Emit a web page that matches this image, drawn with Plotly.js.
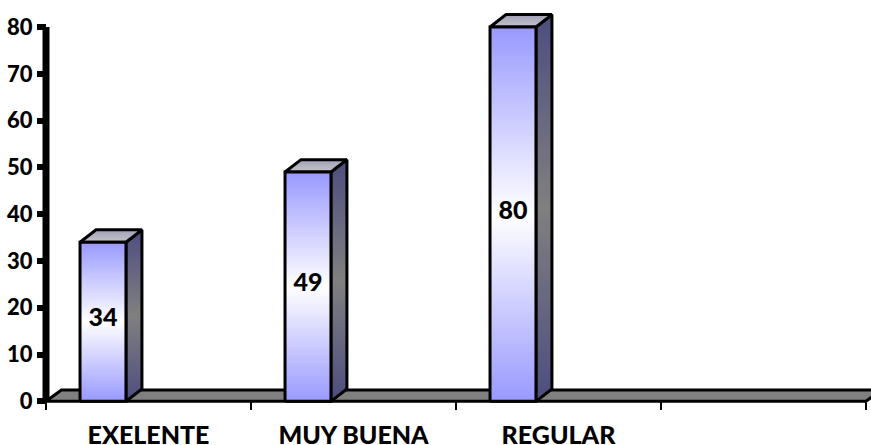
<!DOCTYPE html>
<html><head><meta charset="utf-8">
<script src="https://cdn.plot.ly/plotly-3.0.1.min.js"></script>
<style>html,body{margin:0;padding:0;background:#fff;overflow:hidden}</style>
</head><body><div id="chart" style="width:871px;height:445px"></div>
<script>
const categories = ["EXELENTE", "MUY BUENA", "REGULAR"];
const values = [34, 49, 80];
const slotTicks = [0, 1, 2, 3, 4];
const yTicks = [0, 10, 20, 30, 40, 50, 60, 70, 80];

const barOffset = 0.278, barWidth = 0.224, depthX = 0.078, depthY = 2.65;
const floorDepthX = 0.075, floorDepthY = 2.4;
const fontFam = "Lato, Carlito, sans-serif";
const xRange = [-10 / 205, 825 / 205], yRange = [-1, 84.92];

function poly(xs, ys, fill, gradient) {
  const t = {type: "scatter", mode: "lines", x: xs, y: ys, fill: "toself", hoverinfo: "skip",
    showlegend: false, cliponaxis: false, line: {color: "#000", width: 3}};
  if (gradient) t.fillgradient = gradient; else t.fillcolor = fill;
  return t;
}
const frontGrad = {type: "vertical", colorscale: [[0, "#9999ff"], [0.5, "#ffffff"], [1, "#9999ff"]]};
const sideGrad = {type: "vertical", colorscale: [[0, "#4d4d80"], [0.5, "#808080"], [1, "#4d4d80"]]};
const topGrad = {type: "vertical", colorscale: [[0, "#c4c4c8"], [1, "#a0a0b8"]]};

const traces = [];
traces.push(poly([0, floorDepthX, 4 + floorDepthX, 4, 0], [0, floorDepthY, floorDepthY, 0, 0], "#808080", null));
categories.forEach((c, i) => {
  const x0 = i + barOffset - barWidth / 2, x1 = x0 + barWidth, v = values[i];
  traces.push(poly([x1, x1 + depthX, x1 + depthX, x1, x1], [0, depthY, v + depthY, v, 0], null, sideGrad));
  traces.push(poly([x0, x0 + depthX, x1 + depthX, x1, x0], [v, v + depthY, v + depthY, v, v], null, topGrad));
  traces.push(poly([x0, x1, x1, x0, x0], [0, 0, v, v, 0], null, frontGrad));
});
// vertical axis spine, thick
traces.push({type: "scatter", mode: "lines", x: [0, 0], y: [yTicks[0], yTicks[yTicks.length - 1]],
  line: {color: "#000", width: 7}, hoverinfo: "skip", showlegend: false, cliponaxis: false});
traces.push({type: "scatter", mode: "text", x: categories.map((c, i) => i + barOffset),
  y: values.map(v => v / 2 + 0.4), text: values.map(String), textposition: "middle center",
  textfont: {family: fontFam, size: 25, color: "#000", weight: 900}, hoverinfo: "skip",
  showlegend: false, cliponaxis: false});

const layout = {
  width: 871, height: 445, paper_bgcolor: "#fff", plot_bgcolor: "#fff", showlegend: false,
  margin: {l: 36, r: 0, t: 4, b: 39.325, pad: 0},
  xaxis: {range: xRange, anchor: "free", position: (0 - yRange[0]) / (yRange[1] - yRange[0]),
    tickmode: "array", tickvals: categories.map((c, i) => i + 0.5), ticktext: categories,
    ticks: "outside", ticklen: 12, tickwidth: 0, tickcolor: "rgba(0,0,0,0)",
    tickfont: {family: fontFam, size: 25, color: "#000", weight: 900},
    showline: false, showgrid: false, zeroline: false,
    minor: {tickmode: "array", tickvals: slotTicks, ticks: "outside", ticklen: 8, tickwidth: 2.5, tickcolor: "#000", showgrid: false}},
  yaxis: {range: yRange, anchor: "free", position: (0 - xRange[0]) / (xRange[1] - xRange[0]),
    tickmode: "array", tickvals: yTicks, ticktext: yTicks.map(String),
    ticks: "outside", ticklen: 9, tickwidth: 6, tickcolor: "#000",
    tickfont: {family: fontFam, size: 22, color: "#000", weight: 900},
    showline: false, showgrid: false, zeroline: false}
};
Plotly.newPlot("chart", traces, layout, {displayModeBar: false, staticPlot: true});
</script></body></html>
